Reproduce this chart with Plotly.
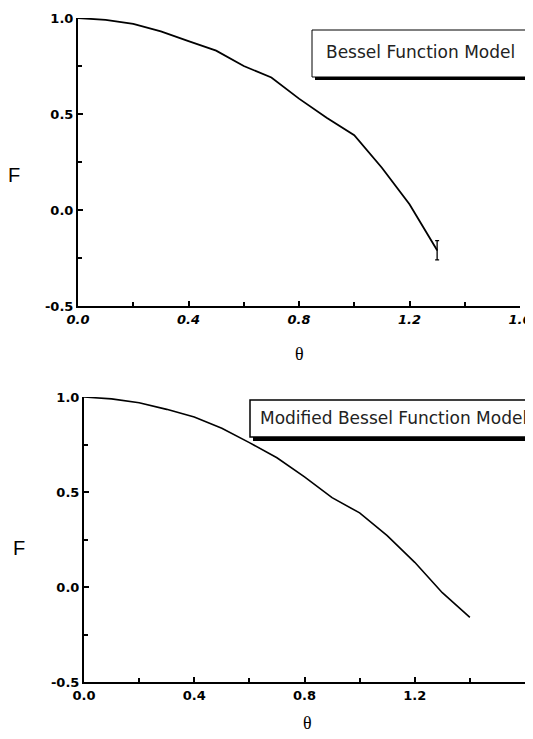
import plotly.graph_objects as go

# ---- data ----
theta_top = [0.0, 0.1, 0.2, 0.3, 0.4, 0.5, 0.6, 0.7, 0.8, 0.9, 1.0, 1.1, 1.2, 1.3]
F_top = [1.0, 0.99, 0.97, 0.93, 0.88, 0.83, 0.75, 0.69, 0.58, 0.48, 0.39, 0.22, 0.03, -0.21]
err_x = [1.3]
err_y = [-0.21]
err_size = [0.05]

theta_bot = [0.0, 0.1, 0.2, 0.3, 0.4, 0.5, 0.6, 0.7, 0.8, 0.9, 1.0, 1.1, 1.2, 1.3, 1.4]
F_bot = [1.0, 0.99, 0.97, 0.935, 0.895, 0.835, 0.76, 0.68, 0.58, 0.47, 0.39, 0.27, 0.13, -0.03, -0.16]

x_ticks = [0.0, 0.4, 0.8, 1.2, 1.6]
x_labels = ["0.0", "0.4", "0.8", "1.2", "1.6"]
y_ticks = [-0.5, 0.0, 0.5, 1.0]
y_labels = ["-0.5", "0.0", "0.5", "1.0"]
label_top = "Bessel Function Model"
label_bot = "Modified Bessel Function Model"

# page body has an 8px margin, so the figure is offset by 8px in the window
OFF = 8
W, H = 533 - OFF, 739 - OFF

def px_x(p):
    return (p - OFF) / W

def px_y(p):
    return 1 - (p - OFF) / H

fig = go.Figure()
fig.add_trace(go.Scatter(x=theta_top, y=F_top, mode="lines",
                         line=dict(color="black", width=1.8),
                         xaxis="x", yaxis="y", showlegend=False))
fig.add_trace(go.Scatter(x=err_x, y=err_y, mode="markers",
                         marker=dict(size=1, color="black"),
                         error_y=dict(type="data", array=err_size, color="black",
                                      thickness=1.3, width=2),
                         xaxis="x", yaxis="y", showlegend=False))
fig.add_trace(go.Scatter(x=theta_bot, y=F_bot, mode="lines",
                         line=dict(color="black", width=1.6),
                         xaxis="x2", yaxis="y2", showlegend=False))

tickfont = dict(family="DejaVu Sans", size=13, color="black", weight="bold")

def xaxis(domain, anchor, italic):
    f = dict(tickfont)
    if italic:
        f["style"] = "italic"
    return dict(domain=domain, anchor=anchor, range=[0, 1.6],
                tickvals=x_ticks, ticktext=x_labels, automargin=False,
                showline=True, linecolor="black", linewidth=2,
                ticks="inside", ticklen=5, tickwidth=1.5, tickcolor="black",
                minor=dict(tickvals=[0.2, 0.6, 1.0, 1.4], ticks="inside", ticklen=4,
                           tickwidth=1.5, tickcolor="black"),
                showgrid=False, zeroline=False, tickfont=f, mirror=False)

def yaxis(domain, anchor):
    return dict(domain=domain, anchor=anchor, range=[-0.5, 1.0],
                tickvals=y_ticks, ticktext=y_labels, automargin=False,
                showline=True, linecolor="black", linewidth=2,
                ticks="inside", ticklen=5, tickwidth=1.5, tickcolor="black",
                minor=dict(tickvals=[-0.25, 0.25, 0.75], ticks="inside", ticklen=4,
                           tickwidth=1.5, tickcolor="black"),
                showgrid=False, zeroline=False, tickfont=tickfont, mirror=False)

fig.update_layout(
    width=W, height=H,
    margin=dict(l=0, r=0, t=0, b=0),
    paper_bgcolor="white", plot_bgcolor="white",
    xaxis=xaxis([px_x(78), px_x(520)], "y", True),
    yaxis=yaxis([px_y(306), px_y(18)], "x"),
    xaxis2=xaxis([px_x(84), px_x(525)], "y2", False),
    yaxis2=yaxis([px_y(682), px_y(397)], "x2"),
)

# legend-like boxes with drop shadows (shadow to the lower right)
shapes = []
shapes.append(dict(type="rect", xref="paper", yref="paper",
                   x0=px_x(315), x1=px_x(531), y0=px_y(80), y1=px_y(33),
                   fillcolor="black", line=dict(width=0)))
shapes.append(dict(type="rect", xref="paper", yref="paper",
                   x0=px_x(312), x1=px_x(528), y0=px_y(77), y1=px_y(30),
                   fillcolor="white", line=dict(color="black", width=1)))
shapes.append(dict(type="rect", xref="paper", yref="paper",
                   x0=px_x(253), x1=px_x(545), y0=px_y(441), y1=px_y(403),
                   fillcolor="black", line=dict(width=0)))
shapes.append(dict(type="rect", xref="paper", yref="paper",
                   x0=px_x(250), x1=px_x(545), y0=px_y(437), y1=px_y(400),
                   fillcolor="white", line=dict(color="black", width=1.5)))
fig.update_layout(shapes=shapes)

def ann(text, x, y, family, size, color="black"):
    return dict(text=text, xref="paper", yref="paper", x=px_x(x), y=px_y(y),
                xanchor="center", yanchor="middle", showarrow=False,
                font=dict(family=family, size=size, color=color))

annotations = [
    ann(label_top, 420, 52, "DejaVu Sans", 17, "#222"),
    ann(label_bot, 393, 418, "DejaVu Sans", 17, "#222"),
    ann("F", 14, 175, "Liberation Sans", 20),
    ann("F", 19, 548, "Liberation Sans", 20),
    ann("θ", 299, 354, "Liberation Serif", 18),
    ann("θ", 307, 723, "Liberation Serif", 18),
]
fig.update_layout(annotations=annotations)

fig.write_html("out.html")
